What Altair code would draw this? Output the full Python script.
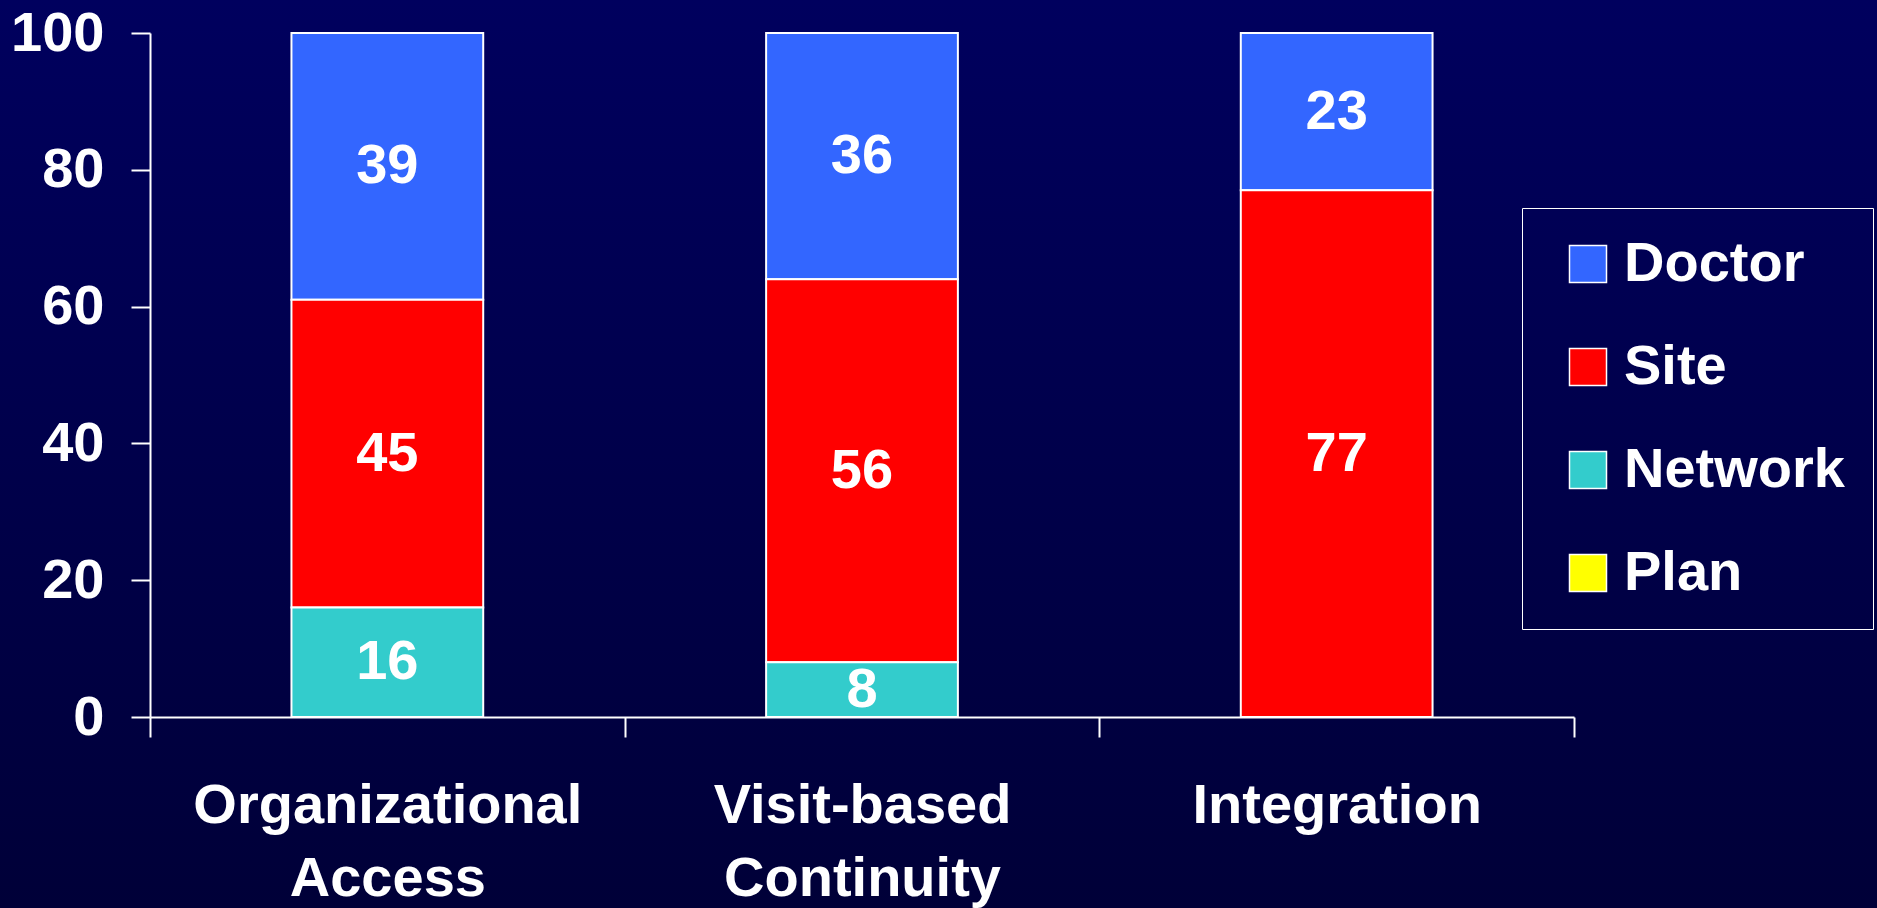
import altair as alt
import pandas as pd

categories = ["Organizational Access", "Visit-based Continuity", "Integration"]
doctor = [39, 36, 23]
site = [45, 56, 77]
network = [16, 8, 0]
plan = [0, 0, 0]

series_names = ["Doctor", "Site", "Network", "Plan"]
series_colors = ["#3366FF", "#FF0000", "#33CCCC", "#FFFF00"]
stack_rank = {"Network": 1, "Site": 2, "Doctor": 3, "Plan": 4}

rows = []
for name, vals in zip(series_names, [doctor, site, network, plan]):
    for cat, v in zip(categories, vals):
        if v > 0:
            rows.append({"category": cat, "series": name, "value": v, "rank": stack_rank[name]})
df = pd.DataFrame(rows)

FONT = "Liberation Sans"
W, H = 1424, 684

bg = alt.Chart(alt.Data(values=[{}])).mark_rect(
    color=alt.Gradient(
        gradient="linear",
        stops=[alt.GradientStop(color="#00005E", offset=0), alt.GradientStop(color="#000038", offset=1)],
        x1=0, x2=0, y1=0, y2=1,
    )
).encode(
    x=alt.value(-150), x2=alt.value(W + 303), y=alt.value(-33), y2=alt.value(H + 191)
)

base = alt.Chart(df).transform_stack(
    stack="value", groupby=["category"], as_=["v0", "v1"],
    sort=[alt.SortField("rank", order="ascending")],
).transform_calculate(mid="(datum.v0 + datum.v1) / 2")

xscale = alt.Scale(paddingInner=0, paddingOuter=0)

xenc = alt.X(
    "category:N", sort=categories, title=None,
    scale=xscale,
    axis=alt.Axis(
        labelAngle=0, tickBand="extent", tickSize=20, tickWidth=2, domainWidth=2,
        labelPadding=41, labelFontSize=56, labelFont=FONT, labelFontWeight="bold",
        labelColor="white", domainColor="white", tickColor="white",
        labelExpr="split(datum.label, ' ')", labelLineHeight=73, labelLimit=0,
        zindex=1,
    ),
)

bars = base.mark_bar(stroke="white", strokeWidth=2, width=alt.RelativeBandSize(0.404)).encode(
    x=xenc,
    y=alt.Y(
        "v0:Q", title=None,
        scale=alt.Scale(domain=[0, 100], nice=False),
        axis=alt.Axis(
            values=[0, 20, 40, 60, 80, 100], grid=False, tickSize=19, tickWidth=2, domainWidth=2,
            labelPadding=27, labelFontSize=56, labelFont=FONT, labelFontWeight="bold",
            labelColor="white", domainColor="white", tickColor="white",
            zindex=1,
        ),
    ),
    y2="v1:Q",
    color=alt.Color(
        "series:N",
        scale=alt.Scale(domain=series_names, range=series_colors),
        legend=alt.Legend(
            title=None, orient="none", legendX=1372, legendY=175,
            strokeColor="white", padding=28,
            symbolType="square", symbolSize=1369, symbolStrokeColor="white", symbolStrokeWidth=1.5,
            symbolOffset=10, labelOffset=8, rowPadding=47,
            labelFontSize=56, labelFont=FONT, labelFontWeight="bold", labelColor="white",
            labelLimit=0, zindex=2,
        ),
    ),
)

labels = base.mark_text(
    color="white", font=FONT, fontWeight="bold", fontSize=56, baseline="middle", align="center",
).encode(
    x=alt.X("category:N", sort=categories),
    y=alt.Y("mid:Q"),
    text=alt.Text("value:Q"),
)

chart = alt.layer(bg, bars, labels).properties(
    width=W, height=H,
    padding={"left": 150, "top": 33, "right": 303, "bottom": 191},
    autosize=alt.AutoSizeParams(type="none"),
    background="#00004A",
).configure_view(stroke=None)

chart.save("out.html", embed_options={"renderer": "svg", "actions": False})
